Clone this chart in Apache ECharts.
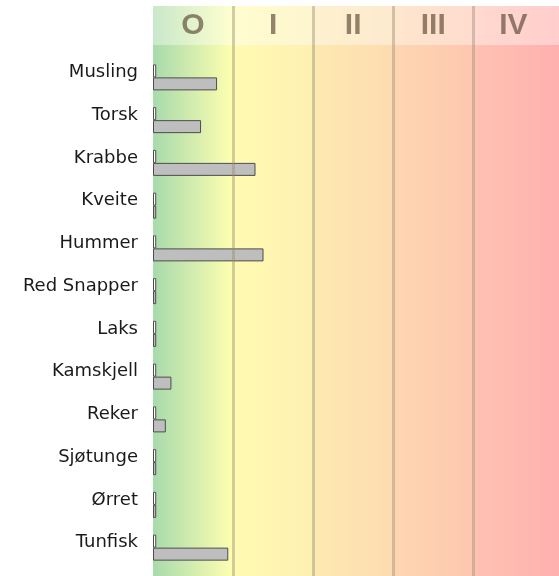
<!DOCTYPE html>
<html>
<head>
<meta charset="utf-8">
<script src="https://cdn.jsdelivr.net/npm/echarts@6/dist/echarts.min.js"></script>
<style>
  html, body { margin: 0; background: #fff; }
  #chart { width: 559px; height: 576px; }
</style>
</head>
<body>
<div id="chart"></div>
<script>
// data
const species = ["Musling", "Torsk", "Krabbe", "Kveite", "Hummer", "Red Snapper",
  "Laks", "Kamskjell", "Reker", "Sjøtunge", "Ørret", "Tunfisk"];
const lowValues = [0.04, 0.04, 0.04, 0.04, 0.04, 0.04, 0.04, 0.04, 0.04, 0.04, 0.04, 0.04];
const highValues = [0.80, 0.60, 1.28, 0.04, 1.38, 0.04, 0.04, 0.23, 0.16, 0.04, 0.04, 0.94];
const classNames = ["O", "I", "II", "III", "IV"];
const classStart = [0, 1, 2, 3, 4];
const classEnd = [1, 2, 3, 4, 5];
const classBreaks = [1, 2, 3, 4];
const xMax = 5.07;

// styles
const classColors = [
  ["#a8daac", "#ffffb0"],
  ["#fffbb2", "#fef0b2"],
  ["#fde9b2", "#fddcb0"],
  ["#fdd7b1", "#fec6b0"],
  ["#ffc2b2", "#ffb0b0"],
];
const labelColor = "rgba(80, 62, 42, 0.62)";
const headerH = 39;
const bgH = 570;

const chart = echarts.init(document.getElementById("chart"), null, { renderer: "canvas" });

function grad(c) {
  return new echarts.graphic.LinearGradient(0, 0, 1, 0, [
    { offset: 0, color: c[0] },
    { offset: 1, color: c[1] },
  ]);
}

const bgAreas = classNames.map((name, i) => [
  { xAxis: classStart[i], yAxis: 0, itemStyle: { color: grad(classColors[i]) } },
  { xAxis: i === classNames.length - 1 ? xMax : classEnd[i], yAxis: bgH },
]);

const headerAreas = classNames.map((name, i) => [
  { name: name, xAxis: classStart[i], yAxis: 0 },
  { xAxis: classEnd[i], yAxis: headerH },
]);
headerAreas.push([{ xAxis: classEnd[4], yAxis: 0 }, { xAxis: xMax, yAxis: headerH }]);

chart.setOption({
  animation: false,
  grid: [
    { left: 153, right: 0, top: 6, bottom: 0 },
    { left: 153, right: 0, top: 56, bottom: 7 },
  ],
  xAxis: [
    { gridIndex: 0, type: "value", min: 0, max: xMax, show: false },
    { gridIndex: 1, type: "value", min: 0, max: xMax, show: false },
  ],
  yAxis: [
    { gridIndex: 0, type: "value", min: 0, max: bgH, inverse: true, show: false },
    {
      gridIndex: 1,
      type: "category",
      data: species,
      inverse: true,
      axisLine: { show: false },
      axisTick: { show: false },
      axisLabel: {
        color: "#1a1a1a",
        fontFamily: "DejaVu Sans",
        fontSize: 18,
        margin: 15,
        verticalAlign: "bottom",
        lineHeight: 10,
      },
    },
  ],
  series: [
    {
      type: "line",
      xAxisIndex: 0,
      yAxisIndex: 0,
      data: [],
      silent: true,
      markArea: { silent: true, data: bgAreas },
      markLine: {
        silent: true,
        symbol: "none",
        label: { show: false },
        lineStyle: { color: "rgba(150, 135, 110, 0.42)", width: 3, type: "solid" },
        data: classBreaks.map((v) => ({ xAxis: v })),
      },
    },
    {
      type: "line",
      xAxisIndex: 0,
      yAxisIndex: 0,
      data: [],
      silent: true,
      markArea: {
        silent: true,
        itemStyle: { color: "rgba(255, 255, 255, 0.38)" },
        label: {
          show: true,
          position: "inside",
          color: labelColor,
          fontFamily: "Liberation Sans",
          fontWeight: "bold",
          fontSize: 30,
        },
        data: headerAreas,
      },
    },
    {
      name: "low",
      type: "bar",
      xAxisIndex: 1,
      yAxisIndex: 1,
      data: lowValues,
      barWidth: 13,
      barGap: "0%",
      itemStyle: { color: "#ffffff", borderColor: "#4d4d4d", borderWidth: 1 },
    },
    {
      name: "high",
      type: "bar",
      xAxisIndex: 1,
      yAxisIndex: 1,
      data: highValues,
      barWidth: 13,
      barGap: "0%",
      itemStyle: { color: "#bebebe", borderColor: "#4d4d4d", borderWidth: 1 },
    },
  ],
});
</script>
</body>
</html>
